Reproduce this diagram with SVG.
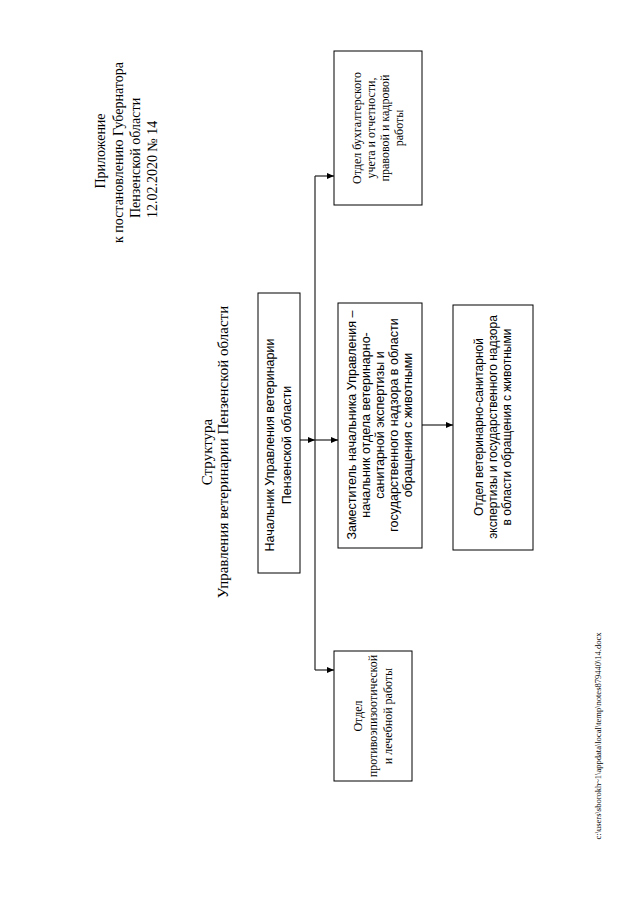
<svg xmlns="http://www.w3.org/2000/svg" width="640" height="905" viewBox="0 0 640 905">
<defs>
<style>
.serif{font-family:"Liberation Serif","Times New Roman",serif;fill:#000}
.sans{font-family:"Liberation Sans",Arial,sans-serif;fill:#000}
.box{fill:#fff;stroke:#000;stroke-width:1}
.conn{fill:none;stroke:#222;stroke-width:1.2}
</style>
<marker id="arr" markerUnits="userSpaceOnUse" markerWidth="8" markerHeight="8" refX="7" refY="4" orient="auto">
<path d="M0,1 L7,4 L0,7 Z" fill="#000"/>
</marker>
</defs>
<rect width="640" height="905" fill="#fff"/>

<g id="header" class="serif" font-size="14">
<text transform="translate(105,151) rotate(-90)" text-anchor="middle">Приложение</text>
<text transform="translate(123,243) rotate(-90)">к постановлению Губернатора</text>
<text transform="translate(140,218) rotate(-90)">Пензенской области</text>
<text transform="translate(157,218) rotate(-90)">12.02.2020 № 14</text>
</g>

<g id="title" class="serif" font-size="15" text-anchor="middle">
<text transform="translate(212,452) rotate(-90)">Структура</text>
<text transform="translate(228,452) rotate(-90)">Управления ветеринарии Пензенской области</text>
</g>

<g id="connectors">
<line class="conn" x1="315" y1="176" x2="315" y2="670"/>
<line class="conn" x1="300" y1="440" x2="315" y2="440" marker-end="url(#arr)"/>
<line class="conn" x1="315" y1="440" x2="338" y2="440" marker-end="url(#arr)"/>
<line class="conn" x1="315" y1="176" x2="334" y2="176" marker-end="url(#arr)"/>
<line class="conn" x1="315" y1="670" x2="334" y2="670" marker-end="url(#arr)"/>
<line class="conn" x1="422" y1="425" x2="453" y2="425" marker-end="url(#arr)"/>
</g>

<g id="chief">
<rect class="box" x="258" y="293" width="42" height="280"/>
<g class="sans" font-size="12.5" text-anchor="middle">
<text transform="translate(274,445) rotate(-90)">Начальник Управления ветеринарии</text>
<text transform="translate(291,445) rotate(-90)">Пензенской области</text>
</g>
</g>

<g id="accounting">
<rect class="box" x="334" y="51" width="88" height="154"/>
<g class="serif" font-size="12" text-anchor="middle">
<text transform="translate(361,128) rotate(-90)">Отдел бухгалтерского</text>
<text transform="translate(375,128) rotate(-90)">учета и отчетности,</text>
<text transform="translate(389,128) rotate(-90)">правовой и кадровой</text>
<text transform="translate(403,128) rotate(-90)">работы</text>
</g>
</g>

<g id="deputy">
<rect class="box" x="338" y="303" width="84" height="245"/>
<g class="sans" font-size="12.5" text-anchor="middle">
<text transform="translate(356,425) rotate(-90)">Заместитель начальника Управления –</text>
<text transform="translate(370,425) rotate(-90)">начальник отдела ветеринарно-</text>
<text transform="translate(384,425) rotate(-90)">санитарной экспертизы и</text>
<text transform="translate(398,425) rotate(-90)">государственного надзора в области</text>
<text transform="translate(412,425) rotate(-90)">обращения с животными</text>
</g>
</g>

<g id="vet-dept">
<rect class="box" x="453" y="305" width="80" height="245"/>
<g class="sans" font-size="12" text-anchor="middle">
<text transform="translate(483,427) rotate(-90)">Отдел ветеринарно-санитарной</text>
<text transform="translate(497,427) rotate(-90)">экспертизы и государственного надзора</text>
<text transform="translate(511,427) rotate(-90)">в области обращения с животными</text>
</g>
</g>

<g id="epizootic">
<rect class="box" x="334" y="651" width="78" height="130"/>
<g class="serif" font-size="12" text-anchor="middle">
<text transform="translate(362,716) rotate(-90)">Отдел</text>
<text transform="translate(377,716) rotate(-90)">противоэпизоотической</text>
<text transform="translate(392,716) rotate(-90)">и лечебной работы</text>
</g>
</g>

<g id="footer" class="serif" font-size="8.5" text-anchor="middle">
<text transform="translate(601,736) rotate(-90)">c:\users\sborokh~1\appdata\local\temp\notes879440\14.docx</text>
</g>
</svg>
